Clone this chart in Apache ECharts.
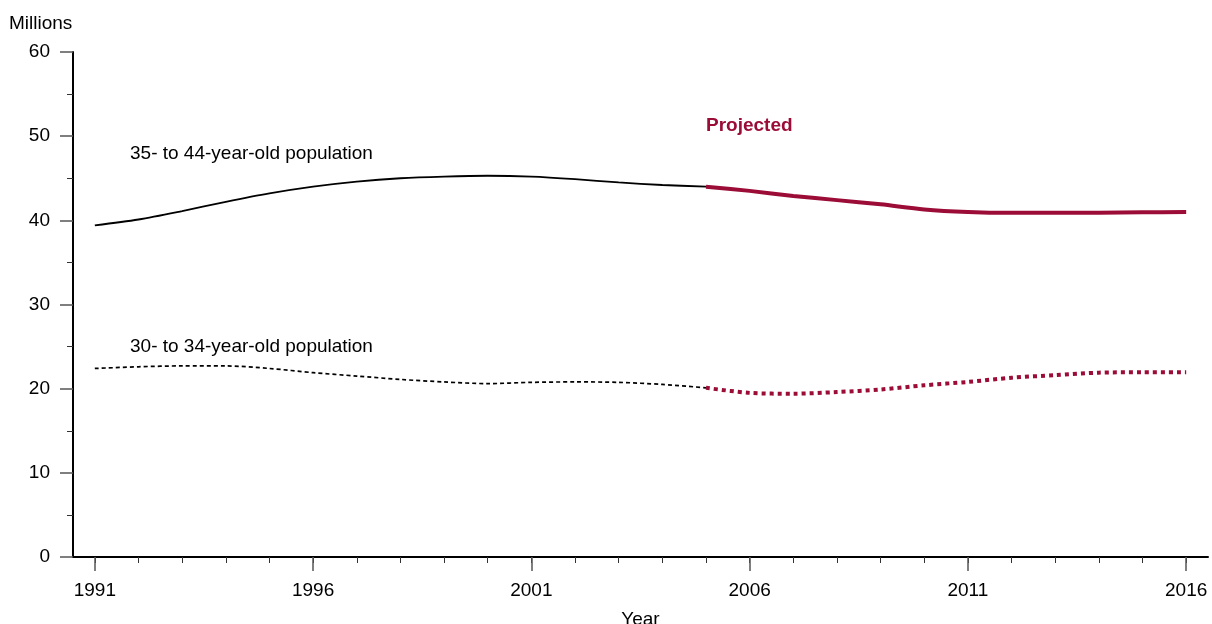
<!DOCTYPE html>
<html>
<head>
<meta charset="utf-8">
<script src="https://cdn.jsdelivr.net/npm/echarts@6/dist/echarts.min.js"></script>
<style>html,body{margin:0;padding:0;background:#fff;overflow:hidden}#c{width:1212px;height:624px}</style>
</head>
<body>
<div id="c"></div>
<script>
// Categories
const years = ['1991','1992','1993','1994','1995','1996','1997','1998','1999','2000','2001','2002','2003','2004','2005','2006','2007','2008','2009','2010','2011','2012','2013','2014','2015','2016'];
// 35- to 44-year-old population (millions)
const pop35to44Hist = [39.4, 40.1, 41.1, 42.2, 43.2, 44.0, 44.6, 45.0, 45.2, 45.3, 45.2, 44.9, 44.5, 44.2, 44.0]; // 1991-2005
const pop35to44Proj = [44.0, 43.5, 42.9, 42.4, 41.9, 41.3, 41.0, 40.9, 40.9, 40.9, 40.95, 41.0]; // 2005-2016
// 30- to 34-year-old population (millions)
const pop30to34Hist = [22.4, 22.6, 22.7, 22.7, 22.4, 21.9, 21.5, 21.1, 20.8, 20.6, 20.75, 20.8, 20.75, 20.5, 20.1]; // 1991-2005
const pop30to34Proj = [20.1, 19.5, 19.4, 19.6, 19.9, 20.4, 20.8, 21.3, 21.6, 21.9, 21.95, 21.95]; // 2005-2016
const yTicks = [0, 10, 20, 30, 40, 50, 60];

const RED = '#9b0c37';
const FONT = '"Liberation Sans", Arial, Helvetica, sans-serif';

function padHist(arr) { return arr.concat(new Array(years.length - arr.length).fill(null)); }
function padProj(arr) { return new Array(years.length - arr.length).fill(null).concat(arr); }

const chart = echarts.init(document.getElementById('c'), null, {renderer: 'canvas'});
chart.setOption({
  animation: false,
  backgroundColor: '#fff',
  grid: {left: 73, right: 4, top: 52, bottom: 67, containLabel: false, outerBoundsMode: 'none'},
  xAxis: [
    {
      type: 'category', data: years, boundaryGap: true, position: 'bottom',
      axisLine: {show: true, lineStyle: {color: '#000', width: 2}},
      axisTick: {show: true, alignWithLabel: true, interval: 0, length: 6, lineStyle: {color: '#333', width: 1}},
      axisLabel: {show: false},
      splitLine: {show: false}
    },
    {
      type: 'category', data: years, boundaryGap: true, position: 'bottom',
      axisLine: {show: false},
      axisTick: {show: true, alignWithLabel: true, interval: 4, length: 14, lineStyle: {color: '#555', width: 1.5}},
      axisLabel: {show: true, interval: 4, margin: 24, color: '#000', fontSize: 19, fontFamily: FONT},
      splitLine: {show: false},
      name: 'Year', nameLocation: 'middle', nameGap: 53,
      nameTextStyle: {color: '#000', fontSize: 19, fontFamily: FONT}
    }
  ],
  yAxis: {
    type: 'value', min: yTicks[0], max: yTicks[yTicks.length - 1], interval: 10,
    axisLine: {show: true, lineStyle: {color: '#000', width: 2}},
    axisTick: {show: true, length: 13, lineStyle: {color: '#555', width: 1.5}},
    minorTick: {show: true, splitNumber: 2, length: 6, lineStyle: {color: '#333', width: 1}},
    axisLabel: {margin: 23, color: '#000', fontSize: 19, fontFamily: FONT},
    splitLine: {show: false}
  },
  series: [
    {
      name: '35-44 actual', type: 'line', xAxisIndex: 0, data: padHist(pop35to44Hist),
      smooth: 0.3, showSymbol: false, symbol: 'none',
      lineStyle: {color: '#000', width: 1.8}
    },
    {
      name: '35-44 projected', type: 'line', xAxisIndex: 0, data: padProj(pop35to44Proj),
      smooth: 0.3, showSymbol: false, symbol: 'none',
      lineStyle: {color: RED, width: 4}
    },
    {
      name: '30-34 actual', type: 'line', xAxisIndex: 0, data: padHist(pop30to34Hist),
      smooth: 0.3, showSymbol: false, symbol: 'none',
      lineStyle: {color: '#000', width: 1.7, type: [4, 3]}
    },
    {
      name: '30-34 projected', type: 'line', xAxisIndex: 0, data: padProj(pop30to34Proj),
      smooth: 0.3, showSymbol: false, symbol: 'none',
      lineStyle: {color: RED, width: 4, type: [4, 4], cap: 'butt'}
    }
  ],
  graphic: [
    {type: 'text', left: 9, top: 14, style: {text: 'Millions', fill: '#000', font: '19px ' + FONT}},
    {type: 'text', x: 130, y: 154, style: {text: '35- to 44-year-old population', fill: '#000', font: '19px ' + FONT, verticalAlign: 'middle'}},
    {type: 'text', x: 130, y: 347, style: {text: '30- to 34-year-old population', fill: '#000', font: '19px ' + FONT, verticalAlign: 'middle'}},
    {type: 'text', x: 706, y: 126, style: {text: 'Projected', fill: RED, font: 'bold 19px ' + FONT, verticalAlign: 'middle'}}
  ]
});
</script>
</body>
</html>
